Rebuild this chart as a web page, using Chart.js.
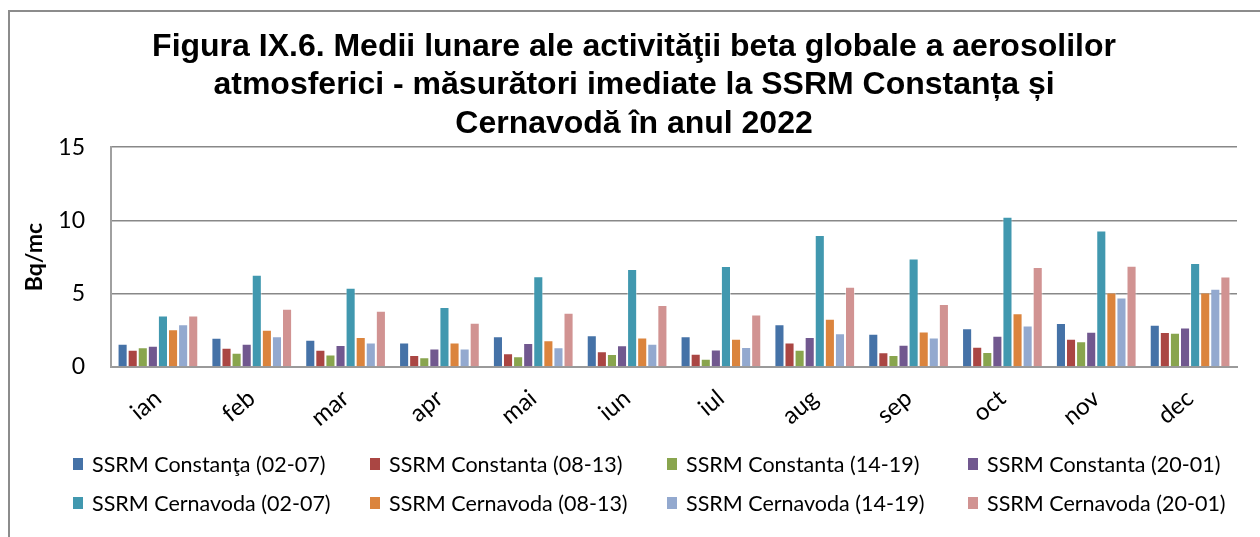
<!DOCTYPE html>
<html>
<head>
<meta charset="utf-8">
<script src="https://cdn.jsdelivr.net/npm/chart.js@4"></script>
<style>
  html, body { margin: 0; padding: 0; background: #fff; }
  #wrap { position: relative; width: 1260px; height: 537px; overflow: hidden; }
  #frame { position: absolute; left: 8px; top: 10px; width: 1300px; height: 600px;
           border-left: 2px solid #8c8c8c; border-top: 2px solid #8c8c8c; }
  #legend { position: absolute; left: 0; top: 0; width: 1260px; height: 537px; pointer-events: none;
            font-family: Lato, "Open Sans", sans-serif; font-size: 21.5px; color: #000; }
  .item { position: absolute; display: flex; align-items: center; white-space: nowrap; }
  .box { width: 10px; height: 12px; margin-right: 9px; }
</style>
</head>
<body>
<div id="wrap">
  <div id="frame"></div>
  <canvas id="chart" width="1260" height="537"></canvas>
  <div id="legend"></div>
</div>
<script>
const months = ["ian", "feb", "mar", "apr", "mai", "iun", "iul", "aug", "sep", "oct", "nov", "dec"];

const constanta0207 = [1.59, 2.0, 1.86, 1.68, 2.09, 2.16, 2.09, 2.91, 2.27, 2.64, 3.0, 2.89];
const constanta0813 = [1.18, 1.32, 1.18, 0.82, 0.93, 1.07, 0.91, 1.68, 1.0, 1.39, 1.93, 2.39];
const constanta1419 = [1.34, 0.98, 0.86, 0.66, 0.73, 0.89, 0.57, 1.18, 0.82, 1.02, 1.75, 2.34];
const constanta2001 = [1.45, 1.59, 1.5, 1.27, 1.64, 1.48, 1.2, 2.05, 1.52, 2.14, 2.41, 2.7];
const cernavoda0207 = [3.52, 6.3, 5.41, 4.09, 6.2, 6.68, 6.89, 9.0, 7.41, 10.25, 9.32, 7.09];
const cernavoda0813 = [2.57, 2.55, 2.05, 1.68, 1.82, 2.02, 1.93, 3.3, 2.43, 3.66, 5.09, 5.09];
const cernavoda1419 = [2.91, 2.09, 1.68, 1.27, 1.34, 1.59, 1.36, 2.3, 2.02, 2.84, 4.75, 5.34];
const cernavoda2001 = [3.52, 3.98, 3.84, 3.02, 3.7, 4.23, 3.59, 5.48, 4.3, 6.82, 6.91, 6.18];

const seriesNames = [
  "SSRM Constanţa (02-07)", "SSRM Constanta (08-13)", "SSRM Constanta (14-19)", "SSRM Constanta (20-01)",
  "SSRM Cernavoda (02-07)", "SSRM Cernavoda (08-13)", "SSRM Cernavoda (14-19)", "SSRM Cernavoda (20-01)"
];
const seriesData = [constanta0207, constanta0813, constanta1419, constanta2001,
                    cernavoda0207, cernavoda0813, cernavoda1419, cernavoda2001];
const seriesColors = ["#4572A7", "#AA4643", "#89A54E", "#71588F", "#4198AF", "#DB843D", "#93A9CF", "#D19392"];

const yTicks = [0, 5, 10, 15];

const buildBarSets = () => {
  const sets = [];
  seriesNames.forEach((name, i) => {
    sets.push({
      label: name,
      data: seriesData[i],
      backgroundColor: seriesColors[i],
      borderColor: "rgba(255, 255, 255, 0.45)",
      borderWidth: 1,
      barPercentage: 1.0,
      categoryPercentage: 0.86,
    });
  });
  return sets;
};

const ctx = document.getElementById("chart").getContext("2d");
const chart = new Chart(ctx, {
  type: "bar",
  data: {
    labels: months,
    datasets: buildBarSets(),
  },
  options: {
    responsive: false,
    animation: false,
    layout: {
      // left/right padding chosen so the title centre sits where it is in the figure
      padding: { left: 31, right: 23, top: 0, bottom: 100 },
    },
    scales: {
      x: {
        grid: { display: false },
        border: { color: "#9a9a9a", width: 2 },
        ticks: {
          color: "#000",
          font: { family: "Lato", size: 24 },
          minRotation: 40,
          maxRotation: 40,
          padding: 9,
        },
        afterFit: (scale) => { scale.height = 70; },
      },
      y: {
        min: 0,
        max: 15,
        afterBuildTicks: (scale) => { scale.ticks = yTicks.map((v) => ({ value: v })); },
        grid: { color: "#888888", lineWidth: 1.5, drawTicks: false },
        border: { color: "#a0a0a0", width: 2 },
        ticks: {
          color: "#000",
          font: { family: "Lato", size: 23 },
          padding: 26,
        },
        title: {
          display: true,
          text: "Bq/mc",
          color: "#000",
          font: { family: "Lato", size: 23, weight: "bold" },
          padding: { top: -10, bottom: 0 },
        },
        afterFit: (scale) => { scale.width = 80; },
      },
    },
    plugins: {
      legend: { display: false },
      tooltip: { enabled: false },
      title: {
        display: true,
        text: [
          "Figura IX.6. Medii lunare ale activităţii beta globale a aerosolilor",
          "atmosferici - măsurători imediate la SSRM Constanța și",
          "Cernavodă în anul 2022",
        ],
        color: "#000",
        font: { family: "Liberation Sans", size: 32, weight: "bold", lineHeight: 1.2 },
        padding: { top: 28, bottom: 4 },
      },
    },
  },
});

// legend: two rows of four, drawn as html from the same series arrays
const legendEl = document.getElementById("legend");
const colX = [73, 370, 667, 968];
const rowY = [464, 503];
seriesNames.forEach((name, i) => {
  const item = document.createElement("div");
  item.className = "item";
  item.style.left = colX[i % 4] + "px";
  item.style.top = (rowY[Math.floor(i / 4)] - 13) + "px";
  item.style.height = "26px";
  const box = document.createElement("span");
  box.className = "box";
  box.style.background = seriesColors[i];
  const txt = document.createElement("span");
  txt.textContent = name;
  item.appendChild(box);
  item.appendChild(txt);
  legendEl.appendChild(item);
});
</script>
</body>
</html>
